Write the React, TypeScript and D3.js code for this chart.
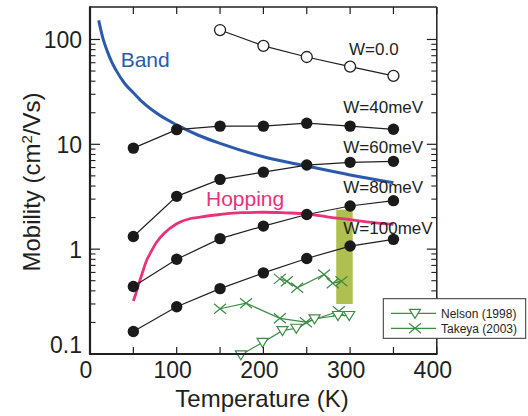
import React from "react";
import * as d3 from "d3";

// ---------- data ----------
const simTemps = [50, 100, 150, 200, 250, 300, 350];
const w0Temps = [150, 200, 250, 300, 350];
const w0Values = [123, 87, 68, 55, 45];
const w40Values = [9.2, 13.8, 14.9, 14.9, 15.9, 14.9, 13.9];
const w60Values = [1.32, 3.19, 4.63, 5.43, 6.34, 6.73, 6.88];
const w80Values = [0.44, 0.8, 1.26, 1.66, 2.14, 2.58, 2.9];
const w100Values = [0.164, 0.282, 0.42, 0.594, 0.815, 1.07, 1.24];

const bandTemps = [10, 15, 20, 25, 30, 40, 50, 60, 80, 100, 125, 150, 200, 250, 300, 350];
const bandValues = [152, 102, 77, 61, 51, 38, 31, 25.5, 19, 15.3, 12.2, 10.2, 7.6, 6.2, 5.1, 4.3];

const hopTemps = [50, 53, 56, 60, 65, 70, 77, 85, 100, 115, 127, 150, 175, 200, 225, 250, 275, 300, 325, 350];
const hopValues = [0.32, 0.38, 0.46, 0.58, 0.77, 0.93, 1.17, 1.4, 1.75, 1.95, 2.02, 2.14, 2.23, 2.25, 2.22, 2.17, 2.02, 1.91, 1.8, 1.72];

const nelsonTemps = [174, 199, 222, 238, 259, 286, 299];
const nelsonValues = [0.098, 0.129, 0.167, 0.176, 0.216, 0.233, 0.233];

const takeyaTempsA = [150, 180, 219, 249, 287];
const takeyaValuesA = [0.27, 0.305, 0.219, 0.201, 0.256];
const takeyaTempsB = [219, 227, 239, 270, 280, 290];
const takeyaValuesB = [0.521, 0.495, 0.428, 0.573, 0.473, 0.495];

const bandRangeT = [284, 303];
const bandRangeMu = [0.3, 2.38];

const xTicks = [0, 100, 200, 300, 400];
const xMinorTicks = [0, 50, 100, 150, 200, 250, 300, 350, 400];
const yTicks = [0.1, 1, 10, 100];
const yTickLabels = ["0.1", "1", "10", "100"];
const wLabels = ["W=0.0", "W=40meV", "W=60meV", "W=80meV", "W=100meV"];
const legendLabels = ["Nelson (1998)", "Takeya (2003)"];

const X_DOMAIN = [0, 400];
const Y_DOMAIN = [0.1, 204];

// ---------- styling ----------
const INK = "#231f20";
const GREEN = "#3c8c46";
const FONT = "'Liberation Sans', Arial, Helvetica, sans-serif";

export default function App() {
  const left = 90, right = 436.8, top = 7, bottom = 354;
  const x = d3.scaleLinear().domain(X_DOMAIN).range([left, right]);
  const y = d3.scaleLog().domain(Y_DOMAIN).range([bottom, top]);

  const line = (ts: number[], vs: number[], curve = d3.curveLinear) =>
    d3
      .line<number>()
      .x((_, i) => x(ts[i]))
      .y((v) => y(v))
      .curve(curve)(vs) || "";

  const minorY: number[] = [];
  for (let e = -1; e <= 2; e++) {
    for (let m = 2; m <= 9; m++) {
      const v = m * Math.pow(10, e);
      if (v < Y_DOMAIN[1] * 0.98) minorY.push(v);
    }
  }

  const sims = [w40Values, w60Values, w80Values, w100Values];
  const labelPos = [
    { x: 349, y: 55 },
    { x: 343.3, y: 112.7 },
    { x: 343.3, y: 153 },
    { x: 343.3, y: 193 },
    { x: 343.3, y: 234 },
  ];

  const cross = (cx: number, cy: number, k: string) => (
    <path
      key={k}
      d={`M${cx - 6},${cy - 5}L${cx + 6},${cy + 5}M${cx - 6},${cy + 5}L${cx + 6},${cy - 5}`}
      stroke={GREEN}
      strokeWidth={1.2}
      fill="none"
    />
  );
  const tri = (cx: number, cy: number, k: string) => (
    <path
      key={k}
      d={`M${cx - 5.5},${cy - 4}L${cx + 5.5},${cy - 4}L${cx},${cy + 5}Z`}
      stroke={GREEN}
      strokeWidth={1.2}
      fill="white"
    />
  );

  return (
    <svg
      width={528}
      height={416}
      style={{ position: "absolute", left: 0, top: 0, background: "white" }}
      fontFamily={FONT}
    >
      <rect x={0} y={0} width={528} height={416} fill="white" />

      {/* shaded band */}
      <rect
        x={x(bandRangeT[0])}
        y={y(bandRangeMu[1])}
        width={x(bandRangeT[1]) - x(bandRangeT[0])}
        height={y(bandRangeMu[0]) - y(bandRangeMu[1])}
        fill="#afc050"
      />

      {/* band & hopping curves */}
      <path d={line(bandTemps, bandValues, d3.curveMonotoneX)} fill="none" stroke="#2b5aab" strokeWidth={3} />
      <path d={line(hopTemps, hopValues, d3.curveMonotoneX)} fill="none" stroke="#e8327c" strokeWidth={2.8} />

      {/* simulated series */}
      <path d={line(w0Temps, w0Values)} fill="none" stroke={INK} strokeWidth={1.2} />
      {sims.map((vs, i) => (
        <path key={"l" + i} d={line(simTemps, vs)} fill="none" stroke={INK} strokeWidth={1.2} />
      ))}
      {w0Values.map((v, i) => (
        <circle key={"o" + i} cx={x(w0Temps[i])} cy={y(v)} r={5.5} fill="white" stroke={INK} strokeWidth={1.3} />
      ))}
      {sims.map((vs, si) =>
        vs.map((v, i) => (
          <circle key={`c${si}-${i}`} cx={x(simTemps[i])} cy={y(v)} r={5.7} fill="#1a1a1a" />
        ))
      )}

      {/* experimental data */}
      <path d={line(takeyaTempsA, takeyaValuesA)} fill="none" stroke={GREEN} strokeWidth={1.2} />
      <path d={line(takeyaTempsB, takeyaValuesB)} fill="none" stroke={GREEN} strokeWidth={1.2} />
      <path d={line(nelsonTemps, nelsonValues)} fill="none" stroke={GREEN} strokeWidth={1.2} />
      {takeyaValuesA.map((v, i) => cross(x(takeyaTempsA[i]), y(v), "ta" + i))}
      {takeyaValuesB.map((v, i) => cross(x(takeyaTempsB[i]), y(v), "tb" + i))}
      {nelsonValues.map((v, i) => tri(x(nelsonTemps[i]), y(v), "n" + i))}

      {/* curve labels */}
      <text x={120.7} y={66.7} fontSize={21} fill="#2b5aab">Band</text>
      <text x={206} y={205.5} fontSize={21} fill="#e8327c">Hopping</text>
      {wLabels.map((t, i) => (
        <text key={t} x={labelPos[i].x} y={labelPos[i].y} fontSize={17} fill={INK}>
          {t}
        </text>
      ))}

      {/* frame */}
      <line x1={left} y1={top} x2={right} y2={top} stroke={INK} strokeWidth={1.5} />
      <line x1={right} y1={top} x2={right} y2={bottom} stroke={INK} strokeWidth={1.5} />
      <line x1={left} y1={top - 0.75} x2={left} y2={bottom + 1} stroke={INK} strokeWidth={2.2} />
      <line x1={left - 1} y1={bottom} x2={right + 0.75} y2={bottom} stroke={INK} strokeWidth={2.2} />

      {/* ticks */}
      {xMinorTicks.map((t) => (
        <g key={"xt" + t}>
          <line x1={x(t)} x2={x(t)} y1={bottom} y2={bottom - 7} stroke={INK} strokeWidth={1.2} />
          <line x1={x(t)} x2={x(t)} y1={top} y2={top + 7} stroke={INK} strokeWidth={1.2} />
        </g>
      ))}
      {yTicks.map((t) => (
        <g key={"yt" + t}>
          <line x1={left} x2={left + 10} y1={y(t)} y2={y(t)} stroke={INK} strokeWidth={1.2} />
          <line x1={right} x2={right - 10} y1={y(t)} y2={y(t)} stroke={INK} strokeWidth={1.2} />
        </g>
      ))}
      {minorY.map((t) => (
        <g key={"ym" + t}>
          <line x1={left} x2={left + 5.5} y1={y(t)} y2={y(t)} stroke={INK} strokeWidth={1.1} />
          <line x1={right} x2={right - 5.5} y1={y(t)} y2={y(t)} stroke={INK} strokeWidth={1.1} />
        </g>
      ))}

      {/* tick labels */}
      {xTicks.map((t) => (
        <text key={"xl" + t} x={x(t) - 4} y={378} fontSize={23} textAnchor="middle" fill={INK}>
          {t}
        </text>
      ))}
      {yTicks.map((t, i) => (
        <text key={"yl" + t} x={82} y={Math.min(y(t) + 8.5, 353)} fontSize={23} textAnchor="end" fill={INK}>
          {yTickLabels[i]}
        </text>
      ))}

      {/* axis titles */}
      <text x={262} y={407} fontSize={24} textAnchor="middle" fill={INK}>
        Temperature (K)
      </text>
      <text transform="translate(40,182) rotate(-90)" fontSize={24} textAnchor="middle" fill={INK}>
        Mobility (cm
        <tspan dy={-8} fontSize={15}>2</tspan>
        <tspan dy={8}>/Vs)</tspan>
      </text>

      {/* legend */}
      <rect x={383.3} y={298.7} width={142.4} height={39.6} fill="white" stroke="#333" strokeWidth={1} />
      <line x1={391} x2={436} y1={313.3} y2={313.3} stroke={GREEN} strokeWidth={1.2} />
      {tri(415, 313.3, "lt")}
      <line x1={391} x2={436} y1={328.3} y2={328.3} stroke={GREEN} strokeWidth={1.2} />
      {cross(415, 328.3, "lc")}
      <text x={441} y={317.5} fontSize={12} fill={INK}>{legendLabels[0]}</text>
      <text x={441} y={332.5} fontSize={12} fill={INK}>{legendLabels[1]}</text>
    </svg>
  );
}
